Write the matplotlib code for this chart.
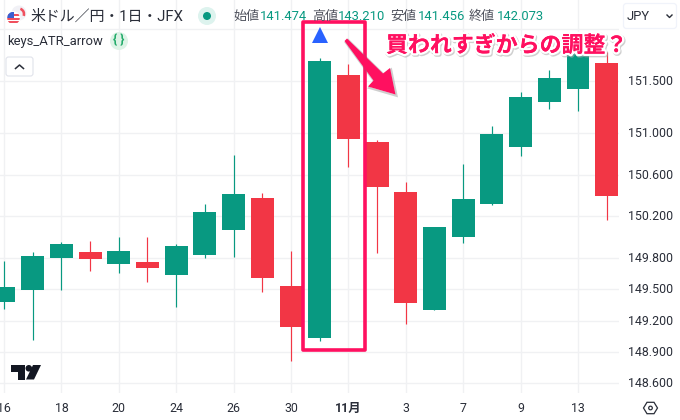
import matplotlib
matplotlib.use("Agg")
import matplotlib.pyplot as plt
import matplotlib.patheffects as pe
from matplotlib.patches import Polygon, Circle, FancyBboxPatch, Rectangle, Wedge
from matplotlib.transforms import ScaledTranslation

plt.rcParams['font.family'] = ['Roboto', 'Noto Sans CJK JP', 'DejaVu Sans']

# Daily candles, USD/JPY
opens  = [149.378,149.493,149.800,149.857,149.742,149.761,149.637,149.829,150.069,150.375,149.532,
          149.033,151.554,150.912,150.433,149.301,150.001,150.318,150.864,151.296,151.420,151.669]
closes = [149.522,149.819,149.934,149.790,149.867,149.704,149.915,150.241,150.414,149.608,149.138,
          151.689,150.941,150.481,149.368,150.097,150.366,150.989,151.344,151.526,151.800,150.394]
highs  = [149.771,149.857,149.953,149.963,150.001,150.001,149.934,150.318,150.788,150.423,149.867,
          151.714,151.660,150.931,150.529,150.097,150.701,151.065,151.391,151.602,151.860,151.778]
lows   = [149.311,149.014,149.493,149.675,149.656,149.570,149.330,149.800,149.810,149.474,148.813,
          149.004,150.672,149.848,149.167,149.301,149.947,150.308,150.778,151.228,151.209,150.164]
date_labels = ['16','18','20','24','26','30','11月','3','7','9','13']
price_ticks = [152.0,151.5,151.0,150.6,150.2,149.8,149.5,149.2,148.9,148.6]
price_labels = ['','151.500','151.000','150.600','150.200','149.800','149.500','149.200','148.900','148.600']
signal_candle = 11
signal_price = 151.938

UP, DOWN = '#089981', '#F23645'
PINK = '#FF1060'
GRID = '#F0F1F3'
TXT = '#2A2E39'
W, H = 680, 420

fig = plt.figure(figsize=(W/100, H/100), dpi=100, facecolor='white')
ax = fig.add_axes([0, (H-393)/H, 619/W, 393/H])
ax.set_xlim((0-4.0)/28.7, (619-4.0)/28.7)
ax.set_ylim(151.5-(393-80.7)/104.3, 151.5+80.7/104.3)
for s in ax.spines.values():
    s.set_visible(False)
ax.grid(True, color=GRID, lw=1)
ax.set_axisbelow(True)
ax.set_xticks(range(0, 2*len(date_labels), 2))
ax.set_xticklabels(date_labels, fontsize=8.9, color=TXT)
for lb in ax.get_xticklabels():
    if lb.get_text() == '11月':
        lb.set_fontweight('bold')
ax.set_yticks(price_ticks)
ax.set_yticklabels(price_labels, fontsize=8.9, color=TXT)
ax.yaxis.tick_right()
ax.tick_params(axis='x', length=0, pad=6.5)
ax.tick_params(axis='y', length=0, pad=6.5)
up_1px = ScaledTranslation(0, 1/100, fig.dpi_scale_trans)
for lb in ax.get_yticklabels():
    lb.set_transform(lb.get_transform() + up_1px)

for i, (o, c, h, l) in enumerate(zip(opens, closes, highs, lows)):
    col = UP if c >= o else DOWN
    ax.vlines(i, l, h, color=col, lw=0.85, zorder=2)
    ax.bar(i, abs(c-o), bottom=min(o, c), width=0.80, color=col, lw=0, zorder=3)
ax.plot([signal_candle], [signal_price], marker='^', ms=11.2, color='#2962FF', mew=0, zorder=4, clip_on=False)

# overlay in screen pixels for the interface furniture and annotations
ov = fig.add_axes([0, 0, 1, 1], zorder=10)
ov.set_xlim(0, W); ov.set_ylim(H, 0); ov.axis('off'); ov.patch.set_alpha(0)

# flag
ov.add_patch(Circle((19, 13), 7.5, fc='#F1F1F6', ec='none'))
ov.add_patch(Wedge((18.5, 14), 6.8, -70, 20, width=2.6, fc='#F0505E', ec='none'))
ov.add_patch(Circle((13.5, 18), 6.8, fc='white', ec='none'))
clip = Circle((13.5, 18), 6.3, transform=ov.transData)
for yy in (15, 18.5, 22):
    ov.add_patch(Rectangle((7, yy-1), 14, 2, fc='#F0505E', ec='none', clip_path=clip))
ov.add_patch(Rectangle((7.2, 12), 6.5, 6, fc='#3A5FD0', ec='none', clip_path=clip))

ov.text(30, 16.5, '米ドル／円・1日・JFX', fontsize=10.75, color=TXT, va='center', ha='left')
ov.add_patch(Circle((207, 16), 9, fc='#DDF3EE', ec='none'))
ov.add_patch(Circle((207, 16), 4, fc=UP, ec='none'))
for x, s, c in [(233,'始値','#50535E'),(260,'141.474',UP),(312,'高値','#50535E'),(338,'143.210',UP),
                (390,'安値','#50535E'),(417.5,'141.456',UP),(469,'終値','#50535E'),(497,'142.073',UP)]:
    ov.text(x, 16.5, s, fontsize=9.4, color=c, va='center', ha='left')
ov.text(7.5, 41.5, 'keys_ATR_arrow', fontsize=9.4, color=TXT, va='center', ha='left')
ov.add_patch(Circle((119, 41), 9, fc='#DDF3E6', ec='none'))
ov.text(119, 40.5, '{ }', fontsize=9, fontweight='bold', color='#22AB6A', va='center', ha='center')
ov.add_patch(FancyBboxPatch((6, 57), 27, 19, boxstyle='round,pad=0,rounding_size=2.5', fc='white', ec='#E0E3EB', lw=0.8))
ov.plot([15.5, 19.5, 23.5], [68.5, 65, 68.5], color=TXT, lw=1.1)

# JPY selector
ov.add_patch(FancyBboxPatch((623.5, 3.5), 53, 25, boxstyle='round,pad=0,rounding_size=3', fc='white', ec='#F0F3FA', lw=0.9))
ov.text(627, 16, 'JPY', fontsize=9.4, color=TXT, va='center', ha='left')
ov.plot([667, 669.5, 672], [15, 17.5, 15], color=TXT, lw=1)

# logo
for pts in ([(11,365),(25,365),(25,379.5),(18,379.5),(18,371.5),(11,371.5)],
            [(33,365),(41,365),(34,379.5),(26,379.5)]):
    ov.add_patch(Polygon(pts, fc='#131722', ec='none'))
ov.add_patch(Circle((28.8, 368.3), 3.3, fc='#131722', ec='none'))

# settings hexagon
ov.add_patch(Polygon([(643.5,408),(647,402.3),(654,402.3),(657.5,408),(654,413.7),(647,413.7)], fc='white', ec=TXT, lw=0.9))
ov.add_patch(Circle((650.5, 408), 1.8, fc='white', ec=TXT, lw=0.9))

# annotations
ov.add_patch(Rectangle((302.5, 21.5), 62.2, 328.5, fc='none', ec=PINK, lw=2.6, joinstyle='round'))
arrow = [(347,38.5),(383,73.5),(390,68),(395.5,94.5),(368,86.5),(373.5,80.5),(344.5,41)]
ov.add_patch(Polygon(arrow, fc=PINK, ec='none', path_effects=[
    pe.SimpleLineShadow(offset=(0.8,-1.0), shadow_color='#777777', alpha=0.35, linewidth=1.5), pe.Normal()]))
ov.text(387, 47.2, '買われすぎからの調整？', fontsize=15.8, fontweight='bold', color='#AAAAAA', va='center', ha='left',
        alpha=0.55, path_effects=[pe.withStroke(linewidth=3.6, foreground='#AAAAAA', alpha=0.55)])
ov.text(386, 46, '買われすぎからの調整？', fontsize=15.8, fontweight='bold', color=PINK, va='center', ha='left',
        path_effects=[pe.withStroke(linewidth=3.4, foreground='white'), pe.Normal()])

fig.savefig('out.png', dpi=100)
